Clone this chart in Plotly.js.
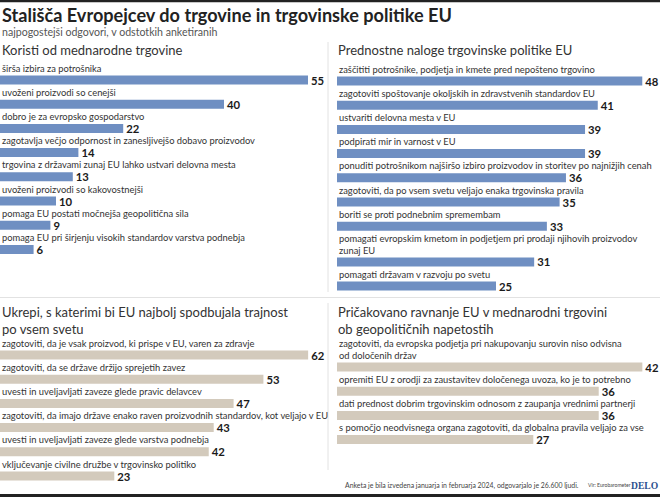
<!DOCTYPE html>
<html>
<head>
<meta charset="utf-8">
<script src="https://cdn.plot.ly/plotly-3.0.1.min.js"></script>
<style>
html,body{margin:0;padding:0;background:#fff;}
#chart{width:660px;height:497px;}
</style>
</head>
<body>
<div id="chart"></div>
<script>
// ---------- DATA ----------
const mainTitle = "Stališča Evropejcev do trgovine in trgovinske politike EU";
const subTitle = "najpogostejši odgovori, v odstotkih anketiranih";

const benefitsTitle = "Koristi od mednarodne trgovine";
const benefitsLabels = [
  "širša izbira za potrošnika",
  "uvoženi proizvodi so cenejši",
  "dobro je za evropsko gospodarstvo",
  "zagotavlja večjo odpornost in zanesljivejšo dobavo proizvodov",
  "trgovina z državami zunaj EU lahko ustvari delovna mesta",
  "uvoženi proizvodi so kakovostnejši",
  "pomaga EU postati močnejša geopolitična sila",
  "pomaga EU pri širjenju visokih standardov varstva podnebja"
];
const benefitsValues = [55, 40, 22, 14, 13, 10, 9, 6];

const prioritiesTitle = "Prednostne naloge trgovinske politike EU";
const prioritiesLabels = [
  "zaščititi potrošnike, podjetja in kmete pred nepošteno trgovino",
  "zagotoviti spoštovanje okoljskih in zdravstvenih standardov EU",
  "ustvariti delovna mesta v EU",
  "podpirati mir in varnost v EU",
  "ponuditi potrošnikom najširšo izbiro proizvodov in storitev po najnižjih cenah",
  "zagotoviti, da po vsem svetu veljajo enaka trgovinska pravila",
  "boriti se proti podnebnim spremembam",
  "pomagati evropskim kmetom in podjetjem pri prodaji njihovih proizvodov<br>zunaj EU",
  "pomagati državam v razvoju po svetu"
];
const prioritiesValues = [48, 41, 39, 39, 36, 35, 33, 31, 25];

const sustainTitle = "Ukrepi, s katerimi bi EU najbolj spodbujala trajnost<br>po vsem svetu";
const sustainLabels = [
  "zagotoviti, da je vsak proizvod, ki prispe v EU, varen za zdravje",
  "zagotoviti, da se države držijo sprejetih zavez",
  "uvesti in uveljavljati zaveze glede pravic delavcev",
  "zagotoviti, da imajo države enako raven proizvodnih standardov, kot veljajo v EU",
  "uvesti in uveljavljati zaveze glede varstva podnebja",
  "vključevanje civilne družbe v trgovinsko politiko"
];
const sustainValues = [62, 53, 47, 43, 42, 23];

const geoTitle = "Pričakovano ravnanje EU v mednarodni trgovini<br>ob geopolitičnih napetostih";
const geoLabels = [
  "zagotoviti, da evropska podjetja pri nakupovanju surovin niso odvisna<br>od določenih držav",
  "opremiti EU z orodji za zaustavitev določenega uvoza, ko je to potrebno",
  "dati prednost dobrim trgovinskim odnosom z zaupanja vrednimi partnerji",
  "s pomočjo neodvisnega organa zagotoviti, da globalna pravila veljajo za vse"
];
const geoValues = [42, 36, 36, 27];

const footNote = "Anketa je bila izvedena januarja in februarja 2024, odgovarjalo je 26.600 ljudi.";
const sourceNote = "Vir: Eurobarometer";
const brand = "DELO";

// ---------- STYLE / LAYOUT ----------
const W = 660, H = 497;
const FONT = "Lato, Roboto, sans-serif";
const BLUE = "#6f8fc2";
const BEIGE = "#d3cabc";
const TXT = "#333";
const PITCH = 24.2, LINE = 11.5, LABEL_OFF = 12, BAR_H = 9;

const panels = [
  {labels: benefitsLabels, values: benefitsValues, color: BLUE, x0: 0, x1: 330, firstBar: 80, pxPerUnit: 5.6, ax: ""},
  {labels: prioritiesLabels, values: prioritiesValues, color: BLUE, x0: 337, x1: 660, firstBar: 81, pxPerUnit: 6.36, ax: "2"},
  {labels: sustainLabels, values: sustainValues, color: BEIGE, x0: 0, x1: 330, firstBar: 355, pxPerUnit: 4.97, ax: "3"},
  {labels: geoLabels, values: geoValues, color: BEIGE, x0: 337, x1: 660, firstBar: 367, pxPerUnit: 7.27, ax: "4"}
];

const traces = [];
const annotations = [];
const layout = {
  width: W, height: H,
  margin: {l: 0, r: 0, t: 0, b: 0},
  paper_bgcolor: "#fff", plot_bgcolor: "rgba(0,0,0,0)",
  showlegend: false,
  font: {family: FONT, color: TXT},
  annotations: annotations,
  shapes: []
};

panels.forEach(p => {
  const ys = [];
  let y = p.firstBar;
  p.labels.forEach((lab, i) => {
    const extra = (lab.split("<br>").length - 1) * LINE;
    if (i > 0) y += PITCH + extra;
    ys.push(y);
  });
  const xa = "x" + p.ax, ya = "y" + p.ax;
  traces.push({
    type: "bar", orientation: "h",
    x: p.values, y: ys,
    xaxis: xa, yaxis: ya,
    width: BAR_H,
    marker: {color: p.color, line: {width: 0}},
    text: p.values.map(String),
    texttemplate: "<b>%{x}</b>",
    textposition: "outside",
    constraintext: "none",
    cliponaxis: false,
    textfont: {family: FONT, size: 11.3, color: "#1a1a1a"},
    hoverinfo: "skip"
  });
  p.labels.forEach((lab, i) => {
    const nl = lab.split("<br>").length;
    annotations.push({
      xref: xa, yref: ya, x: 0, y: ys[i] - LABEL_OFF - (nl - 1) * LINE / 2,
      text: lab, showarrow: false, xanchor: "left", yanchor: "middle",
      align: "left", borderpad: 0, xshift: 1,
      font: {family: FONT, size: 9.35, color: TXT}
    });
  });
  const wpx = p.x1 - p.x0;
  layout["xaxis" + p.ax] = {
    domain: [p.x0 / W, p.x1 / W], range: [0, wpx / p.pxPerUnit],
    anchor: ya, visible: false, fixedrange: true
  };
  layout["yaxis" + p.ax] = {
    domain: [0, 1], range: [H, 0], anchor: xa, visible: false, fixedrange: true
  };
});

function paperText(text, xpx, ypx, size, opts) {
  annotations.push(Object.assign({
    xref: "paper", yref: "paper", x: xpx / W, y: 1 - ypx / H,
    text: text, showarrow: false, xanchor: "left", yanchor: "middle",
    align: "left", borderpad: 0,
    font: {family: FONT, size: size, color: TXT}
  }, opts || {}));
}
paperText("<b>" + mainTitle + "</b>", 1, 14.5, 18.1, {font: {family: FONT, size: 18.1, color: "#222"}});
paperText(subTitle, 1, 32, 10.6, {font: {family: FONT, size: 10.6, color: "#555"}});
paperText(benefitsTitle, 1, 50, 13.0);
paperText(prioritiesTitle, 337, 50, 13.0);
paperText(sustainTitle, 1, 320, 13.0);
paperText(geoTitle, 337, 320, 13.0);
paperText(footNote, 580, 485, 6.9, {xanchor: "right", font: {family: FONT, size: 6.9, color: "#444"}});
paperText(sourceNote, 587, 485, 5.1, {font: {family: FONT, size: 5.1, color: "#444"}});
paperText("<b>" + brand + "</b>", 659, 485, 9.6, {xanchor: "right", font: {family: "'Liberation Serif', serif", size: 9.6, color: "#2c4f8e"}});

function line(x0, y0, x1, y1, color, w) {
  layout.shapes.push({type: "line", xref: "paper", yref: "paper",
    x0: x0 / W, x1: x1 / W, y0: 1 - y0 / H, y1: 1 - y1 / H,
    line: {color: color, width: w}});
}
line(0, 1, W, 1, "#222", 2.5);
line(0, 495.5, W, 495.5, "#222", 3);
line(0, 297.5, W, 297.5, "#e2e2e2", 1);
line(328, 42, 328, 292, "#e2e2e2", 1);
line(328, 303, 328, 470, "#e2e2e2", 1);

Plotly.newPlot("chart", traces, layout, {staticPlot: true, displayModeBar: false});
</script>
</body>
</html>
